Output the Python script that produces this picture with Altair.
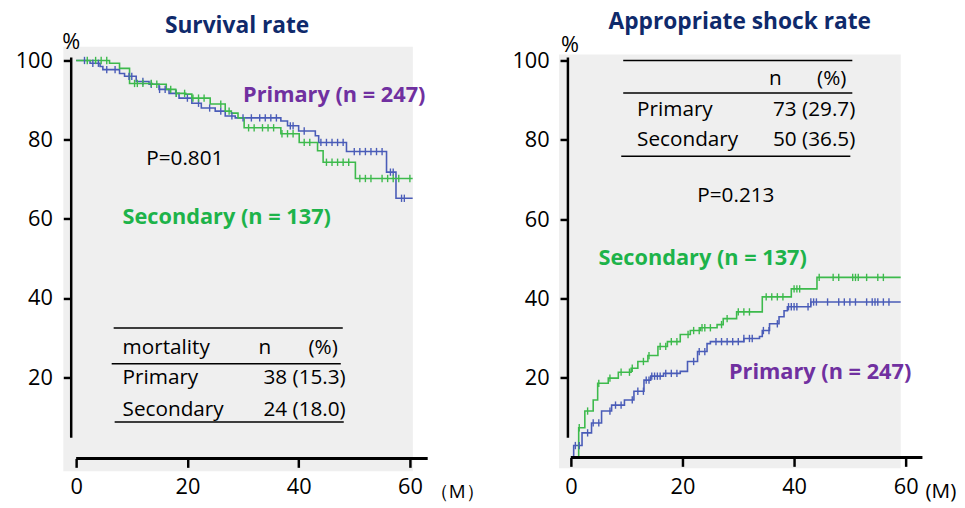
import altair as alt
import pandas as pd
import numpy as np

# ---------------- data ----------------
# Survival rate (left panel), Kaplan-Meier steps
surv_primary_t = [0, 2.5, 4.3, 4.8, 7.8, 8.7, 10.8, 13.1, 14.9, 16.7, 18.5, 20.8, 22.5, 25, 26.8, 28.6, 36.8, 38, 40, 43, 43.6, 48.6, 55.8, 57.5, 60.5]
surv_primary_s = [100, 99.3, 98.5, 97.7, 96.7, 96, 94.7, 94, 92.7, 91.7, 90.5, 89.2, 88, 87.2, 86, 85.5, 84.7, 83.5, 82.2, 81, 79.3, 77, 71.8, 65.2, 65.2]
surv_secondary_t = [0, 6, 7.8, 9.6, 13.7, 16.2, 17.9, 19.7, 20.8, 24.1, 26.8, 27.9, 29.1, 30.2, 36.8, 40.1, 43.4, 44.4, 50.2, 60.5]
surv_secondary_s = [100, 99.3, 98, 94.2, 94, 92.7, 91.7, 91.5, 90.5, 89, 87.2, 86.7, 85.5, 83, 81.5, 79.3, 77.2, 74.3, 70.2, 70.2]
surv_primary_cens = [1.5, 3, 4, 5.5, 7, 9.5, 10, 12, 13.5, 15, 16, 18, 20, 22, 24, 26, 28, 30, 31.5, 33, 34, 35, 36, 38.5, 39, 41, 44, 45, 46, 47, 48, 50, 51, 52, 53, 54, 55, 56.5, 57, 58.5, 59]
surv_secondary_cens = [2, 3.5, 4.5, 5.5, 10.5, 11, 12, 13.5, 14.5, 17, 18, 19.5, 21, 22, 23, 26, 27.5, 31, 32, 33.5, 34.5, 35.5, 37, 38, 39, 41, 42, 45, 46, 47, 48, 49, 51, 52, 53, 55, 56, 57, 58, 60]

# Appropriate shock rate (right panel), cumulative incidence steps
shock_primary_t = [0, 0.5, 2, 3.7, 5.5, 7.3, 9.6, 11.3, 13.1, 14.3, 16.6, 19.6, 20.9, 22.7, 24.4, 25, 31, 33.8, 34.3, 35.6, 37.3, 38.2, 38.8, 43, 59.1]
shock_primary_s = [0, 2.9, 6.1, 8.6, 11.6, 13.1, 14.4, 16.6, 19.4, 20.4, 21.1, 21.6, 24.1, 26.6, 28.6, 29.1, 29.9, 30.4, 31.9, 33.6, 35.4, 36.9, 37.9, 39.1, 39.1]
shock_secondary_t = [0, 1.4, 2.5, 4, 4.8, 6.7, 8.5, 10.8, 12, 13.8, 15.6, 17.3, 19.6, 21.4, 23.2, 26.2, 27.3, 29.7, 34.3, 39.5, 44.1, 59.1]
shock_secondary_s = [0, 7.4, 11.6, 14.4, 18.6, 19.9, 21.4, 22.4, 24.1, 25.6, 27.9, 29.1, 30.9, 31.9, 32.6, 33.4, 34.9, 36.6, 40.4, 42.4, 45.3, 45.3]
shock_primary_cens = [0.8, 1.5, 3, 4, 5, 7, 8, 9, 11, 12, 13, 13.5, 14, 14.5, 15, 15.5, 16, 17, 18, 19, 22, 23, 24, 26, 27, 28, 29, 30, 31, 32, 32.5, 34.5, 35.5, 37, 39, 39.5, 40, 40.5, 42.5, 43, 43.5, 44, 46, 48, 49, 50, 51, 53, 54, 54.5, 55, 56, 57]
shock_secondary_cens = [1.5, 3, 5, 7, 9, 10.5, 11, 13, 14, 16, 17, 18, 19, 21, 22, 23, 23.5, 24, 25, 27, 28, 30, 31, 32, 35, 36, 37, 38, 40, 40.5, 41, 44.5, 47, 48, 50.5, 51, 51.5, 53, 55, 56]

groups = ["Primary", "Secondary"]
x_ticks = [0, 20, 40, 60]
y_ticks = [20, 40, 60, 80, 100]

left_title = "Survival rate"
right_title = "Appropriate shock rate"
label_primary = "Primary (n = 247)"
label_secondary = "Secondary  (n = 137)"
left_p = "P=0.801"
right_p = "P=0.213"
left_table_head = ["mortality", "n", "(%)"]
left_table_rows = [["Primary", "38 (15.3)"], ["Secondary", "24 (18.0)"]]
right_table_head = ["n", "(%)"]
right_table_rows = [["Primary", "73 (29.7)"], ["Secondary", "50 (36.5)"]]

FONT = "Open Sans"
C_LINE = {"Primary": "#4a5cb8", "Secondary": "#3dba4c"}
C_PURPLE = "#7030a0"
C_GREEN = "#1db34a"
C_TITLE = "#0f2a6b"
GRAY = "#efefef"
TS = 21      # table / annotation text size
LS = 22      # coloured label size
AX = 22      # axis label size


def curves(tp, sp, ts, ss):
    return pd.DataFrame({
        "t": tp + ts,
        "s": sp + ss,
        "g": ["Primary"] * len(tp) + ["Secondary"] * len(ts),
    })


def censors(tp, sp, cp, ts, ss, cs):
    rows = []
    for g, t, s, c in [("Primary", tp, sp, cp), ("Secondary", ts, ss, cs)]:
        t = np.array(t)
        s = np.array(s)
        for ct in c:
            i = np.searchsorted(t, ct, side="right") - 1
            rows.append({"t": ct, "s": s[max(i, 0)], "g": g})
    return pd.DataFrame(rows)


def txt(s, x, y, size=TS, color="black", weight="normal", align="left"):
    return alt.Chart(pd.DataFrame({"t": [s]})).mark_text(
        align=align, baseline="middle", fontSize=size, color=color,
        fontWeight=weight, font=FONT
    ).encode(x=alt.value(x), y=alt.value(y), text="t:N")


def rule(x1, x2, y1, y2=None, w=1.5):
    enc = dict(x=alt.value(x1), x2=alt.value(x2), y=alt.value(y1))
    if y2 is not None:
        enc["y2"] = alt.value(y2)
    return alt.Chart(pd.DataFrame({"a": [0]})).mark_rule(
        color="black", strokeWidth=w).encode(**enc)


def rect(x1, x2, y1, y2):
    return alt.Chart(pd.DataFrame({"a": [0]})).mark_rect(color=GRAY).encode(
        x=alt.value(x1), x2=alt.value(x2), y=alt.value(y1), y2=alt.value(y2))


def panel(cdf, kdf, xdom, ydom):
    xs = alt.Scale(domain=xdom, nice=False, zero=False)
    ys = alt.Scale(domain=ydom, nice=False, zero=False)
    col = alt.Color("g:N", scale=alt.Scale(domain=groups, range=[C_LINE[g] for g in groups]), legend=None)
    xax = alt.Axis(values=x_ticks, title=None, domain=False, grid=False, tickSize=9, tickWidth=2.5,
                   tickColor="black", labelFontSize=AX, labelFont=FONT, labelColor="black",
                   labelPadding=10, zindex=2)
    yax = alt.Axis(values=y_ticks, title=None, domain=False, grid=False, tickSize=8, tickWidth=2.5,
                   tickColor="black", labelFontSize=AX, labelFont=FONT, labelColor="black",
                   labelPadding=11, zindex=2)
    line = alt.Chart(cdf).mark_line(interpolate="step-after", strokeWidth=1.6).encode(
        x=alt.X("t:Q", scale=xs, axis=xax), y=alt.Y("s:Q", scale=ys, axis=yax), color=col, detail="g:N")
    cens = alt.Chart(kdf).mark_point(shape="M0,-1L0,1", size=55, strokeWidth=1.4, filled=False, opacity=1).encode(
        x=alt.X("t:Q", scale=xs), y=alt.Y("s:Q", scale=ys), color=col)
    return line, cens


# ---------------- left panel ----------------
lw, lh = 361, 403
lc = curves(surv_primary_t, surv_primary_s, surv_secondary_t, surv_secondary_s)
lk = censors(surv_primary_t, surv_primary_s, surv_primary_cens, surv_secondary_t, surv_secondary_s, surv_secondary_cens)
l_line, l_cens = panel(lc, lk, [-0.89, 63.2], [-0.5, 100])
left = alt.layer(
    rect(-8, 346, -14, 416),
    l_line, l_cens,
    rule(0, 0, -3, 382, w=2.5),
    rule(5, 361, 403, w=3),
    txt(left_title, 168, -35, size=23, color=C_TITLE, weight="bold", align="center"),
    txt("%", -9, -19, size=22),
    txt(label_primary, 174, 35, size=LS, color=C_PURPLE, weight="bold"),
    txt(left_p, 76, 100),
    txt(label_secondary, 52, 159, size=LS, color=C_GREEN, weight="bold"),
    rule(43, 275, 271), rule(41, 273, 307), rule(44, 276, 366),
    txt(left_table_head[0], 52, 291),
    txt(left_table_head[1], 196, 291, align="center"),
    txt(left_table_head[2], 270, 291, align="right"),
    txt(left_table_rows[0][0], 52, 322),
    txt(left_table_rows[0][1], 278, 322, align="right"),
    txt(left_table_rows[1][0], 52, 354),
    txt(left_table_rows[1][1], 278, 354, align="right"),
    txt("（M）", 363, 437, size=19),
).properties(width=lw, height=lh)

# ---------------- right panel ----------------
rw, rh = 359, 402
rc = curves(shock_primary_t, shock_primary_s, shock_secondary_t, shock_secondary_s)
rk = censors(shock_primary_t, shock_primary_s, shock_primary_cens, shock_secondary_t, shock_secondary_s, shock_secondary_cens)
r_line, r_cens = panel(rc, rk, [-0.53, 63.0], [-0.1, 100])
right = alt.layer(
    rect(-9, 337, -6, 413),
    r_line, r_cens,
    rule(0, 0, -3, 382, w=2.5),
    rule(3, 359, 402, w=3),
    txt(right_title, 174, -39, size=23, color=C_TITLE, weight="bold", align="center"),
    txt("%", -7, -16, size=22),
    rule(56, 288, 0), rule(56, 288, 33), rule(54, 286, 97),
    txt(right_table_head[0], 210, 19, align="center"),
    txt(right_table_head[1], 282, 19, align="right"),
    txt(right_table_rows[0][0], 70, 50),
    txt(right_table_rows[0][1], 291, 50, align="right"),
    txt(right_table_rows[1][0], 70, 81),
    txt(right_table_rows[1][1], 291, 81, align="right"),
    txt(right_p, 131, 137),
    txt(label_secondary, 31, 200, size=LS, color=C_GREEN, weight="bold"),
    txt(label_primary, 163, 316, size=LS, color=C_PURPLE, weight="bold"),
    txt("(M)", 362, 437, size=21),
).properties(width=rw, height=rh)

chart = alt.hconcat(left, right, spacing=142, bounds="flush").properties(
    padding={"left": 7, "top": 0, "right": 0, "bottom": 0}
).configure(background="white").configure_view(stroke=None)

chart.save("out.html", embed_options={"renderer": "svg", "actions": False})
